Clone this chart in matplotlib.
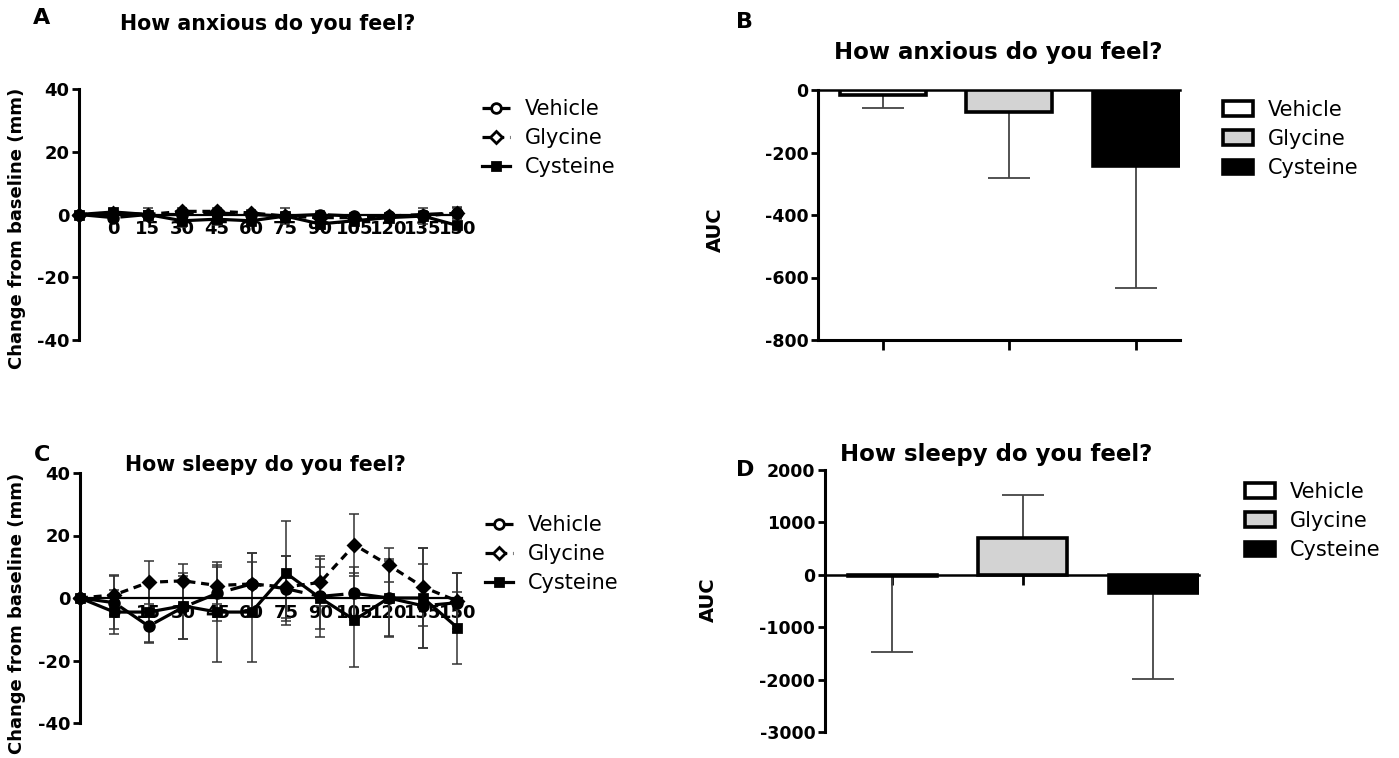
import matplotlib
matplotlib.use('Agg')
import matplotlib.pyplot as plt
from matplotlib.lines import Line2D
from matplotlib.patches import Patch

plt.rcParams['font.family'] = 'DejaVu Sans'

W, H = 1399, 758

# time points (first one is the baseline, drawn on the y axis)
times = [-15, 0, 15, 30, 45, 60, 75, 90, 105, 120, 135, 150]
time_labels = [0, 15, 30, 45, 60, 75, 90, 105, 120, 135, 150]
groups = ['Vehicle', 'Glycine', 'Cysteine']

# How anxious do you feel? (change from baseline, mm)
anx_vehicle = [0, -1, 0, 0, 0.5, 0, -0.5, 0, -0.5, -0.5, 0, 0.5]
anx_vehicle_err = [0, 1, 1, 1, 1, 1, 1, 1, 1, 1, 1, 2]
anx_glycine = [0, 0.5, 0, 1, 1, 0.5, -0.5, -1, -1, -0.5, -0.5, 0.5]
anx_glycine_err = [0, 1, 1, 1, 1, 1, 1, 1.5, 1, 1, 1, 1.5]
anx_cysteine = [0, 0.8, 0, -2, -1.5, -2, -0.5, -3, -2, -1, -0.5, -3.5]
anx_cysteine_err = [0, 1, 2, 2, 2, 1.5, 2.5, 1.5, 1.5, 1.5, 2.5, 1]

# How sleepy do you feel?
slp_vehicle = [0, -1.5, -9, -3, 1.5, 4.5, 3, 0.5, 1.5, 0, -2.5, -1.5]
slp_vehicle_err = [0, 8.5, 5.5, 10, 9, 10, 10.5, 13, 8.5, 12, 13.5, 9.5]
slp_glycine = [0, 1, 5, 5.5, 4, 4.5, 3.5, 5, 17, 10.5, 3.5, -1]
slp_glycine_err = [0, 6.5, 7, 5.5, 6, 10, 10, 7.5, 10, 5.5, 12.5, 9]
slp_cysteine = [0, -4.5, -4.5, -2.5, -4.5, -4.5, 8, 0, -7, 0, 0, -9.5]
slp_cysteine_err = [0, 7, 9.5, 10.5, 16, 16, 16.5, 10, 15, 12.5, 16, 11.5]

# AUC
auc_anx = [-15, -70, -243]
auc_anx_err = [43, 213, 390]
auc_slp = [-30, 710, -340]
auc_slp_err = [1440, 820, 1640]

bar_fills = ['white', '#d3d3d3', 'black']
line_styles = [(0, (10, 3)), (0, (2.5, 1.8)), '-']
markers = ['o', 'D', 's']
legend_fills = ['white', 'white', 'black']
marker_sizes = [7, 6.5, 6]


def fx(px):
    return px / W


def fy(py):
    return 1 - py / H


def rect(x0, y0, x1, y1):
    return [fx(x0), fy(y1), (x1 - x0) / W, (y1 - y0) / H]


def line_panel(ax, series, errs):
    for i, (vals, err) in enumerate(zip(series, errs)):
        ax.errorbar(times, vals, yerr=err, fmt='none', ecolor='#333333',
                    elinewidth=1.1, capsize=3.5, capthick=1.1, zorder=2, clip_on=False)
        ax.plot(times, vals, color='black', lw=2.3, linestyle=line_styles[i],
                marker=markers[i], ms=marker_sizes[i], mfc='black',
                mec='black', mew=2, zorder=3, clip_on=False)
    ax.set_xlim(-15, 152)
    ax.set_ylim(-40, 40)
    yticks = [-40, -20, 0, 20, 40]
    ax.set_yticks(yticks)
    ax.set_yticklabels([str(t) for t in yticks])
    ax.set_xticks(time_labels)
    ax.set_xticklabels([str(t) for t in time_labels])
    ax.spines['bottom'].set_position(('data', 0))
    ax.spines['bottom'].set_linewidth(1.6)
    ax.spines['left'].set_linewidth(2.2)
    ax.spines['top'].set_visible(False)
    ax.spines['right'].set_visible(False)
    ax.tick_params(axis='x', length=0, pad=4, labelsize=13)
    ax.tick_params(axis='y', length=5, width=2, labelsize=13, pad=2)
    for lab in ax.get_xticklabels() + ax.get_yticklabels():
        lab.set_fontweight('bold')


def bar_panel(ax, vals, errs, ylim, yticks, zero_axis):
    xs = [0, 1, 2]
    lower = [e if v < 0 else 0 for v, e in zip(vals, errs)]
    upper = [e if v >= 0 else 0 for v, e in zip(vals, errs)]
    ax.bar(xs, vals, width=0.68, color=bar_fills, edgecolor='black', lw=2.6, zorder=3)
    ax.errorbar(xs, vals, yerr=[lower, upper], fmt='none', ecolor='#444444',
                elinewidth=1.3, capsize=15, capthick=1.3, zorder=2)
    ax.set_xlim(-0.515, 2.35)
    ax.set_ylim(*ylim)
    ax.set_yticks(yticks)
    ax.set_yticklabels([str(t) for t in yticks])
    ax.set_xticks(xs)
    ax.set_xticklabels([])
    ax.spines['right'].set_visible(False)
    ax.spines['left'].set_linewidth(2.2)
    if zero_axis:
        ax.spines['top'].set_visible(False)
        ax.spines['bottom'].set_position(('data', 0))
        ax.spines['bottom'].set_linewidth(1.8)
    else:
        ax.spines['top'].set_linewidth(1.8)
        ax.spines['bottom'].set_linewidth(2.2)
    ax.tick_params(axis='x', length=7, width=2)
    ax.tick_params(axis='y', length=5, width=2, labelsize=12.5, pad=2)
    for lab in ax.get_yticklabels():
        lab.set_fontweight('bold')


fig = plt.figure(figsize=(W / 100, H / 100), dpi=100)

ax_a = fig.add_axes(rect(79, 89, 462, 340))
line_panel(ax_a, [anx_vehicle, anx_glycine, anx_cysteine],
           [anx_vehicle_err, anx_glycine_err, anx_cysteine_err])
ax_c = fig.add_axes(rect(80, 473, 462, 723))
line_panel(ax_c, [slp_vehicle, slp_glycine, slp_cysteine],
           [slp_vehicle_err, slp_glycine_err, slp_cysteine_err])

ax_b = fig.add_axes(rect(818, 90, 1180, 340))
bar_panel(ax_b, auc_anx, auc_anx_err, (-800, 0), [-800, -600, -400, -200, 0], False)
ax_d = fig.add_axes(rect(825, 470, 1199, 732))
bar_panel(ax_d, auc_slp, auc_slp_err, (-3000, 2000),
          [-3000, -2000, -1000, 0, 1000, 2000], True)

# titles, panel letters, axis labels
left_title = dict(ha='center', va='center', fontsize=14.8, fontweight='bold')
right_title = dict(ha='center', va='center', fontsize=16.5, fontweight='bold')
fig.text(fx(268), fy(24), 'How anxious do you feel?', **left_title)
fig.text(fx(998), fy(52), 'How anxious do you feel?', **right_title)
fig.text(fx(265), fy(465), 'How sleepy do you feel?', **left_title)
fig.text(fx(996), fy(455), 'How sleepy do you feel?', **right_title)

letter_kw = dict(ha='center', va='center', fontsize=16, fontweight='bold')
fig.text(fx(42), fy(18), 'A', **letter_kw)
fig.text(fx(745), fy(22), 'B', **letter_kw)
fig.text(fx(42), fy(455), 'C', **letter_kw)
fig.text(fx(745), fy(470), 'D', **letter_kw)

ylab_kw = dict(ha='center', va='center', rotation=90, fontsize=13, fontweight='bold')
fig.text(fx(17), fy(228), 'Change from baseline (mm)', **ylab_kw)
fig.text(fx(17), fy(613), 'Change from baseline (mm)', **ylab_kw)
auc_kw = dict(ha='center', va='center', rotation=90, fontsize=14, fontweight='bold')
fig.text(fx(715), fy(230), 'AUC', **auc_kw)
fig.text(fx(708), fy(600), 'AUC', **auc_kw)

# legends
line_handles = [Line2D([], [], color='black', lw=2.3, linestyle=line_styles[i],
                       marker=markers[i], ms=marker_sizes[i], mfc=legend_fills[i],
                       mec='black', mew=2) for i in range(3)]
bar_handles = [Patch(facecolor=bar_fills[i], edgecolor='black', lw=2.6) for i in range(3)]
leg_kw = dict(loc='upper left', frameon=False, fontsize=15, borderpad=0,
              borderaxespad=0, labelspacing=0.44)
fig.legend(line_handles, groups, bbox_to_anchor=(fx(482), fy(99)),
           handlelength=1.35, handletextpad=0.72, **leg_kw)
fig.legend(line_handles, groups, bbox_to_anchor=(fx(485), fy(515)),
           handlelength=1.35, handletextpad=0.72, **leg_kw)
fig.legend(bar_handles, groups, bbox_to_anchor=(fx(1223), fy(100)),
           handlelength=1.45, handleheight=0.72, handletextpad=0.72, **leg_kw)
fig.legend(bar_handles, groups, bbox_to_anchor=(fx(1245), fy(482)),
           handlelength=1.45, handleheight=0.72, handletextpad=0.72, **leg_kw)

fig.savefig('out.png', dpi=100)
